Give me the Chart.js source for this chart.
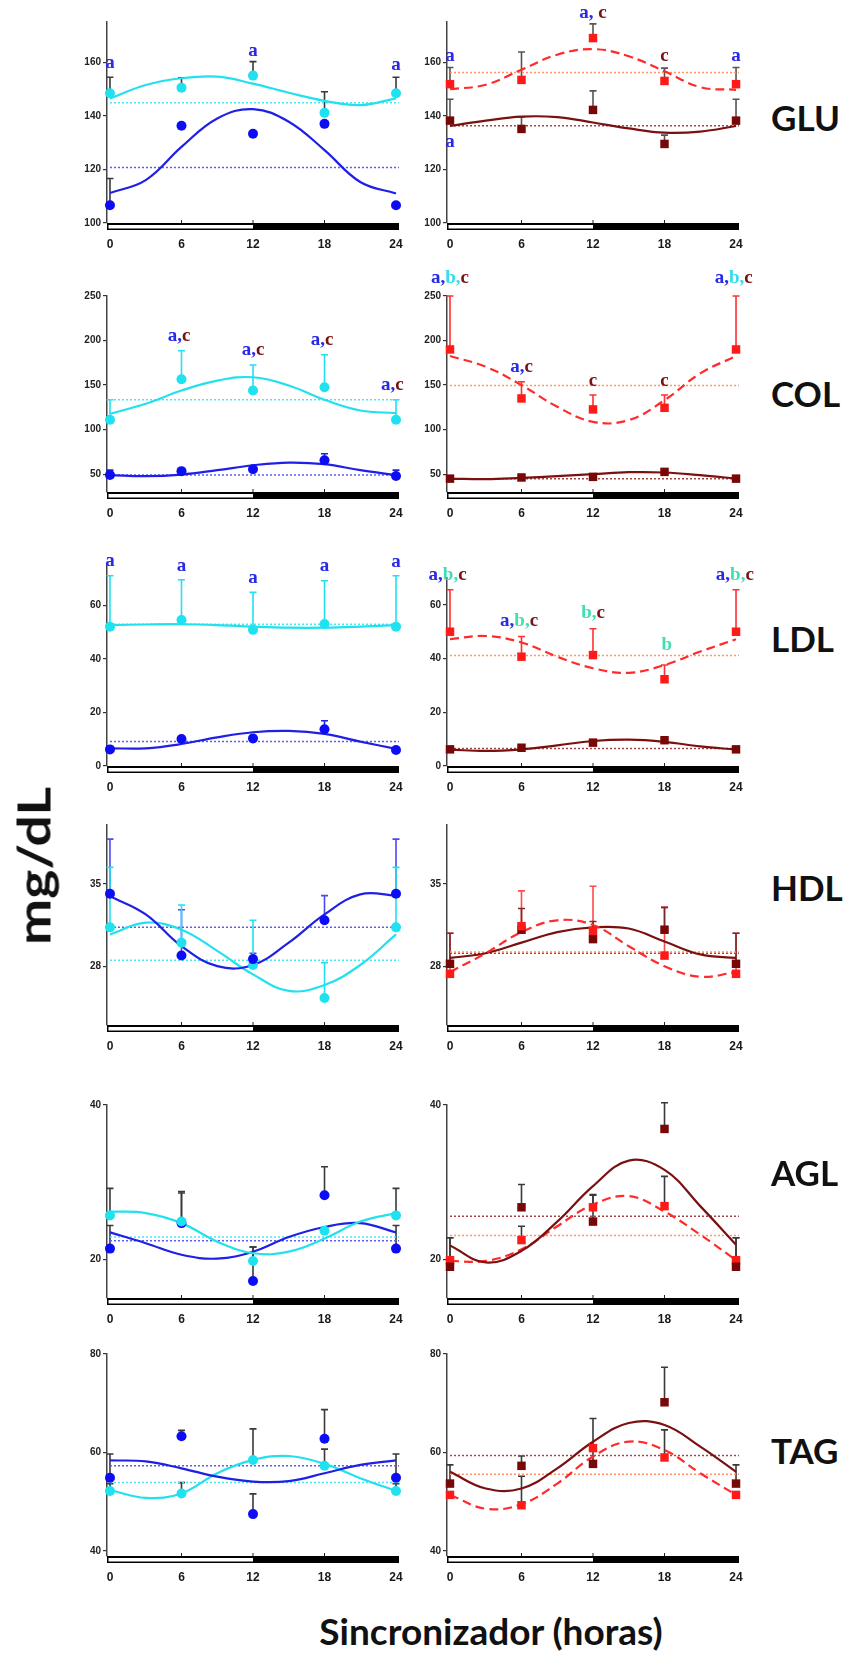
<!DOCTYPE html>
<html>
<head>
<meta charset="utf-8">
<script src="https://cdn.jsdelivr.net/npm/chart.js@4.4.1/dist/chart.umd.min.js"></script>
<style>
  body { margin: 0; background: #fff; }
  #page { position: relative; width: 849px; height: 1667px; overflow: hidden; }
  #page canvas { position: absolute; }
  .rowname { position: absolute; left: 771px; font: bold 35px Lato, "Liberation Sans", sans-serif; color: #111; transform: translateY(-50%); }
  #ylabel { position: absolute; left: 33px; top: 866px; font: bold 46px Lato, "Liberation Sans", sans-serif; color: #111; transform: translate(-50%, -50%) rotate(-90deg) scaleX(1.2); white-space: nowrap; }
  #xlabel { position: absolute; left: 491px; top: 1630px; font: bold 37px Lato, "Liberation Sans", sans-serif; color: #111; transform: translate(-50%, -50%); white-space: nowrap; }
</style>
</head>
<body>
<div id="page"></div>
<script>
// sampling hours
const hours = [0, 6, 12, 18, 24];
const fitHours = [0, 3, 6, 9, 12, 15, 18, 21, 24];
const xTicks = [0, 6, 12, 18, 24];
const mesorSpan = [0, 24.25];
const lightEnd = 12;   // light phase 0-12, dark 12-24
const rowNames = ['GLU', 'COL', 'LDL', 'HDL', 'AGL', 'TAG'];

// ---- GLU ----
const gluRange = [100, 175], gluTicks = [100, 120, 140, 160];
const gluLeftCyanMean = [148.4, 150.5, 155, 141.1, 148.4];
const gluLeftCyanErr = [6, 3.7, 5.2, 7.9, 6];
const gluLeftCyanFit = [146.5, 151.5, 154, 154.6, 152, 148.6, 145.6, 144, 146.5];
const gluLeftCyanMesor = 144.9;
const gluLeftBlueMean = [106.6, 136.3, 133.3, 137, 106.6];
const gluLeftBlueErr = [10, 0, 0, 0, 0];
const gluLeftBlueFit = [111.2, 116, 128.4, 139, 142.5, 137.8, 127.2, 115.3, 111];
const gluLeftBlueMesor = 120.7;
const gluLeftLetters = [[0, 159.6, 'a'], [12, 164.3, 'a'], [24, 159, 'a']];
const gluRightRedMean = [151.8, 153.4, 169, 153, 151.8];
const gluRightRedErr = [6.2, 10.4, 5.3, 4.8, 6.2];
const gluRightRedFit = [149.9, 151.6, 157.2, 162.8, 164.9, 162.2, 156.6, 150.7, 149.7];
const gluRightRedMesor = 156.2;
const gluRightDarkMean = [138.2, 135.1, 142.2, 129.5, 138.2];
const gluRightDarkErr = [8, 4.5, 7.1, 3.3, 8];
const gluRightDarkFit = [136.2, 138.2, 139.7, 139.5, 137.5, 135.3, 133.7, 134.1, 136.2];
const gluRightDarkMesor = 136.3;
const gluRightLetters = [[0, 162.4, 'a'], [0, 130.3, 'a'], [12, 178.4, 'a, c'], [18, 162.4, 'c'], [24, 162.4, 'a']];

// ---- COL ----
const colRange = [30, 250], colTicks = [50, 100, 150, 200, 250];
const colLeftCyanMean = [111, 156.6, 143.9, 147.6, 111];
const colLeftCyanErr = [22.5, 32, 28.7, 36.5, 22.5];
const colLeftCyanFit = [117.8, 129, 143.9, 155, 158.8, 149.5, 133.5, 121.5, 118.6];
const colLeftCyanMesor = 133.5;
const colLeftBlueMean = [49, 53.4, 55.6, 65.6, 48];
const colLeftBlueErr = [5.5, 2.6, 0, 7.4, 6.5];
const colLeftBlueFit = [49, 47.8, 49.6, 54.5, 60, 63, 61.2, 54.5, 49];
const colLeftBlueMesor = 49;
const colLeftLetters = [[5.8, 205.4, 'a,c'], [12, 189.3, 'a,c'], [17.8, 200.5, 'a,c'], [23.7, 149.5, 'a,c']];
const colRightRedMean = [190, 135, 122.7, 124.5, 190];
const colRightRedErr = [60, 18.7, 16.1, 14.3, 60];
const colRightRedFit = [182.6, 170.6, 150, 125.7, 108.8, 110.7, 133.1, 163.1, 182.6];
const colRightRedMesor = 149.6;
const colRightDarkMean = [45, 46.3, 47, 52.6, 45];
const colRightDarkErr = [0, 0, 0, 0, 0];
const colRightDarkFit = [45.1, 44.4, 45.9, 47.8, 50, 52.2, 51.9, 48.9, 45.1];
const colRightDarkMesor = 45;
const colRightLetters = [[0, 269.9, 'a,b,c'], [6, 170.6, 'a,c'], [12, 154.9, 'c'], [18, 154.9, 'c'], [23.8, 269.9, 'a,b,c']];

// ---- LDL ----
const ldlLeftRange = [0, 75], ldlRightRange = [0, 70], ldlTicks = [0, 20, 40, 60];
const ldlLeftCyanMean = [52, 54.5, 50.8, 53, 52];
const ldlLeftCyanErr = [19, 15, 14, 16.1, 19];
const ldlLeftCyanFit = [52.6, 52.8, 52.9, 52.6, 52.0, 51.6, 51.6, 52.0, 52.6];
const ldlLeftCyanMesor = 52.9;
const ldlLeftBlueMean = [6.2, 10.1, 10.3, 13.7, 6];
const ldlLeftBlueErr = [0, 0, 0, 3.2, 0];
const ldlLeftBlueFit = [6.6, 6.6, 8.2, 10.7, 12.6, 13.1, 12, 9.1, 6.4];
const ldlLeftBlueMesor = 9.1;
const ldlLeftLetters = [[0, 76.3, 'a'], [6, 74.5, 'a'], [12, 70.1, 'a'], [18, 74.5, 'a'], [24, 76, 'a']];
const ldlRightRedMean = [50, 40.7, 41.3, 32.3, 50];
const ldlRightRedErr = [15.6, 7.5, 9.8, 5.3, 15.6];
const ldlRightRedFit = [47.2, 48.4, 46, 40.7, 36.4, 34.7, 37.6, 42.6, 47.2];
const ldlRightRedMesor = 41.1;
const ldlRightDarkMean = [6.2, 6.8, 8.7, 9.6, 6.2];
const ldlRightDarkErr = [0, 0, 0, 0, 0];
const ldlRightDarkFit = [6.1, 5.6, 6.2, 7.7, 9.3, 9.8, 9, 7.3, 6.1];
const ldlRightDarkMesor = 6.5;
const ldlRightLetters = [[-0.2, 71.2, 'a,b,c'], [5.8, 53.8, 'a,b,c'], [12, 56.9, 'b,c'], [18.2, 45.1, 'b'], [23.9, 71.2, 'a,b,c']];

// ---- HDL ----
const hdlRange = [23, 40], hdlTicks = [28, 35];
const hdlLeftBlueMean = [34.15, 28.9, 28.6, 31.9, 34.15];
const hdlLeftBlueErr = [4.65, 3.9, 0.5, 2.1, 4.65];
const hdlLeftBlueFit = [33.95, 32.4, 29.7, 28, 28.1, 30, 32.4, 34.1, 34.0];
const hdlLeftBlueMesor = 31.3;
const hdlLeftCyanMean = [31.3, 30, 28.1, 25.3, 31.3];
const hdlLeftCyanErr = [5.1, 3.2, 3.8, 3.0, 5.1];
const hdlLeftCyanFit = [30.7, 31.7, 31.1, 29.3, 27.3, 25.9, 26.4, 28.1, 30.7];
const hdlLeftCyanMesor = 28.5;
const hdlRightRedMean = [27.35, 31.4, 31, 28.9, 27.35];
const hdlRightRedErr = [3.45, 3, 3.8, 4.1, 3.45];
const hdlRightRedFit = [27.5, 29.1, 30.9, 31.9, 31.5, 29.7, 28, 27.1, 27.5];
const hdlRightRedMesor = 29.2;
const hdlRightDarkMean = [28.2, 31.1, 30.3, 31.1, 28.2];
const hdlRightDarkErr = [2.6, 1.8, 1.5, 1.9, 2.6];
const hdlRightDarkFit = [28.7, 29.1, 30, 30.9, 31.3, 31.2, 30.1, 29, 28.7];
const hdlRightDarkMesor = 29.1;

// ---- AGL ----
const aglRange = [15, 40], aglTicks = [20, 40];
const aglLeftCyanMean = [25.7, 24.9, 19.8, 23.7, 25.7];
const aglLeftCyanErr = [3.5, 3.9, 1.8, 0, 3.5];
const aglLeftCyanFit = [26.2, 26, 24.7, 22.3, 20.8, 21, 22.7, 24.9, 26];
const aglLeftCyanMesor = 22.9;
const aglLeftBlueMean = [21.4, 24.7, 17.2, 28.3, 21.4];
const aglLeftBlueErr = [3, 3.9, 4.4, 3.7, 3];
const aglLeftBlueFit = [23.5, 22.1, 20.6, 20.1, 21, 22.9, 24.2, 24.7, 23.5];
const aglLeftBlueMesor = 22.4;
const aglRightDarkMean = [19.05, 26.75, 24.9, 36.9, 19.05];
const aglRightDarkErr = [3.75, 2.95, 3.5, 3.4, 3.75];
const aglRightDarkFit = [21.8, 19.6, 21.1, 24.9, 29.5, 32.8, 31.6, 26.9, 21.9];
const aglRightDarkMesor = 25.6;
const aglRightRedMean = [19.9, 22.5, 26.75, 26.9, 19.9];
const aglRightRedErr = [2.9, 1.8, 1.55, 3.85, 2.9];
const aglRightRedFit = [19.8, 19.8, 21.3, 24.3, 27.1, 28.2, 26.2, 23.2, 19.9];
const aglRightRedMesor = 23.1;

// ---- TAG ----
const tagRange = [39, 80], tagTicks = [40, 60, 80];
const tagLeftBlueMean = [54.9, 63.3, 47.5, 62.8, 54.9];
const tagLeftBlueErr = [4.8, 1.2, 4.1, 5.9, 4.8];
const tagLeftBlueFit = [58.4, 58.2, 56.8, 55.1, 54.1, 54.2, 55.8, 57.5, 58.4];
const tagLeftBlueMesor = 57.3;
const tagLeftCyanMean = [52.2, 51.7, 58.5, 57.3, 52.2];
const tagLeftCyanErr = [1.5, 2.2, 6.3, 3.4, 1.5];
const tagLeftCyanFit = [52.4, 50.8, 51.7, 55.8, 58.5, 59.3, 57.7, 54.8, 52.2];
const tagLeftCyanMesor = 53.9;
const tagRightDarkMean = [53.7, 57.3, 57.7, 70.2, 53.7];
const tagRightDarkErr = [3.8, 2, 9.2, 7.1, 3.8];
const tagRightDarkFit = [56.1, 52.7, 52.7, 56.8, 62.2, 66, 65.6, 61.2, 56.1];
const tagRightDarkMesor = 59.4;
const tagRightRedMean = [51.4, 49.3, 60.9, 59, 51.4];
const tagRightRedErr = [0, 5.9, 0, 5.6, 0];
const tagRightRedFit = [51.4, 48.6, 49.5, 53.7, 59.2, 62.2, 60.5, 55.8, 51.4];
const tagRightRedMesor = 55.6;

// styles
const styles = {
  blue:    { color: '#0d0df5', line: '#1f1fe6', mesor: '#5c5cf4', shape: 'circle', radius: 5, dash: [] },
  cyan:    { color: '#1ee2ef', line: '#22e0ee', mesor: '#48e6f0', shape: 'circle', radius: 5, dash: [] },
  red:     { color: '#ff1a1a', line: '#ff2a2a', mesor: '#ff9466', shape: 'rect', radius: 6, dash: [9, 5] },
  darkred: { color: '#780808', line: '#7a1010', mesor: '#a04444', shape: 'rect', radius: 6, dash: [] },
};
const LETTER_A = '#2a2ae4', LETTER_C = '#7a1212';
const B_CYAN = '#34dcec', B_TEAL = '#3ee0b2';
const GREY = '#3a3a3a';

const PAD_L = 50, PAD_T = 50, PAD_R = 32, PAD_B = 36;
const COLS = [[107, 399], [447, 739]];

function S(name, mean, err, fit, mesor, errColor) {
  return { name, mean, err, fit, mesor, errColor };
}

const panels = [
  { col: 0, top: 22, bottom: 223, range: gluRange, ticks: gluTicks, letters: gluLeftLetters, series: [
    S('cyan', gluLeftCyanMean, gluLeftCyanErr, gluLeftCyanFit, gluLeftCyanMesor, GREY),
    S('blue', gluLeftBlueMean, gluLeftBlueErr, gluLeftBlueFit, gluLeftBlueMesor, GREY)] },
  { col: 1, top: 22, bottom: 223, range: gluRange, ticks: gluTicks, letters: gluRightLetters, series: [
    S('red', gluRightRedMean, gluRightRedErr, gluRightRedFit, gluRightRedMesor, '#555'),
    S('darkred', gluRightDarkMean, gluRightDarkErr, gluRightDarkFit, gluRightDarkMesor, '#555')] },
  { col: 0, top: 296, bottom: 492, range: colRange, ticks: colTicks, letters: colLeftLetters, series: [
    S('cyan', colLeftCyanMean, colLeftCyanErr, colLeftCyanFit, colLeftCyanMesor, '#22e0ee'),
    S('blue', colLeftBlueMean, colLeftBlueErr, colLeftBlueFit, colLeftBlueMesor, '#2222e0')] },
  { col: 1, top: 296, bottom: 492, range: colRange, ticks: colTicks, letters: colRightLetters, bColor: B_CYAN, series: [
    S('red', colRightRedMean, colRightRedErr, colRightRedFit, colRightRedMesor, '#ff3030'),
    S('darkred', colRightDarkMean, colRightDarkErr, colRightDarkFit, colRightDarkMesor, '#7a1010')] },
  { col: 0, top: 565, bottom: 766, range: ldlLeftRange, ticks: ldlTicks, letters: ldlLeftLetters, series: [
    S('cyan', ldlLeftCyanMean, ldlLeftCyanErr, ldlLeftCyanFit, ldlLeftCyanMesor, '#22e0ee'),
    S('blue', ldlLeftBlueMean, ldlLeftBlueErr, ldlLeftBlueFit, ldlLeftBlueMesor, '#2222e0')] },
  { col: 1, top: 578, bottom: 766, range: ldlRightRange, ticks: ldlTicks, letters: ldlRightLetters, bColor: B_TEAL, series: [
    S('red', ldlRightRedMean, ldlRightRedErr, ldlRightRedFit, ldlRightRedMesor, '#ff3030'),
    S('darkred', ldlRightDarkMean, ldlRightDarkErr, ldlRightDarkFit, ldlRightDarkMesor, '#7a1010')] },
  { col: 0, top: 825, bottom: 1025, range: hdlRange, ticks: hdlTicks, letters: [], series: [
    S('blue', hdlLeftBlueMean, hdlLeftBlueErr, hdlLeftBlueFit, hdlLeftBlueMesor, '#4a4aee'),
    S('cyan', hdlLeftCyanMean, hdlLeftCyanErr, hdlLeftCyanFit, hdlLeftCyanMesor, '#22e0ee')] },
  { col: 1, top: 825, bottom: 1025, range: hdlRange, ticks: hdlTicks, letters: [], series: [
    S('red', hdlRightRedMean, hdlRightRedErr, hdlRightRedFit, hdlRightRedMesor, '#ff4a4a'),
    S('darkred', hdlRightDarkMean, hdlRightDarkErr, hdlRightDarkFit, hdlRightDarkMesor, '#7a2a2a')] },
  { col: 0, top: 1105, bottom: 1298, range: aglRange, ticks: aglTicks, letters: [], series: [
    S('cyan', aglLeftCyanMean, aglLeftCyanErr, aglLeftCyanFit, aglLeftCyanMesor, GREY),
    S('blue', aglLeftBlueMean, aglLeftBlueErr, aglLeftBlueFit, aglLeftBlueMesor, GREY)] },
  { col: 1, top: 1105, bottom: 1298, range: aglRange, ticks: aglTicks, letters: [], series: [
    S('darkred', aglRightDarkMean, aglRightDarkErr, aglRightDarkFit, aglRightDarkMesor, GREY),
    S('red', aglRightRedMean, aglRightRedErr, aglRightRedFit, aglRightRedMesor, GREY)] },
  { col: 0, top: 1354, bottom: 1556, range: tagRange, ticks: tagTicks, letters: [], series: [
    S('blue', tagLeftBlueMean, tagLeftBlueErr, tagLeftBlueFit, tagLeftBlueMesor, GREY),
    S('cyan', tagLeftCyanMean, tagLeftCyanErr, tagLeftCyanFit, tagLeftCyanMesor, GREY)] },
  { col: 1, top: 1354, bottom: 1556, range: tagRange, ticks: tagTicks, letters: [], series: [
    S('darkred', tagRightDarkMean, tagRightDarkErr, tagRightDarkFit, tagRightDarkMesor, GREY),
    S('red', tagRightRedMean, tagRightRedErr, tagRightRedFit, tagRightRedMesor, GREY)] },
];

const page = document.getElementById('page');

// error bars, light/dark bar and significance letters
function makeDecor(letters, bColor) {
  return {
    id: 'decor',
    beforeDatasetsDraw(chart) {
      const { ctx, scales: { x, y } } = chart;
      ctx.save();
      chart.data.datasets.forEach(ds => {
        if (!ds.errs) return;
        ctx.strokeStyle = ds.errColor;
        ctx.lineWidth = 1.6;
        ds.data.forEach((p, i) => {
          const e = ds.errs[i];
          if (!e) return;
          const px = x.getPixelForValue(p.x);
          const py = y.getPixelForValue(p.y);
          const pt = y.getPixelForValue(p.y + e);
          ctx.beginPath();
          ctx.moveTo(px, py); ctx.lineTo(px, pt);
          ctx.moveTo(px - 3.5, pt); ctx.lineTo(px + 3.5, pt);
          ctx.stroke();
        });
      });
      ctx.restore();
    },
    afterDraw(chart) {
      const { ctx, chartArea: a, scales: { x, y } } = chart;
      ctx.save();
      // light / dark bar
      const x12 = x.getPixelForValue(lightEnd);
      ctx.fillStyle = '#000';
      ctx.fillRect(a.left, a.bottom, a.right - a.left, 7);
      ctx.fillStyle = '#fff';
      ctx.fillRect(a.left + 1.5, a.bottom + 2, x12 - a.left - 1.5, 3.5);
      ctx.strokeStyle = '#222';
      ctx.lineWidth = 1;
      xTicks.slice(1, -1).forEach(v => {
        const px = x.getPixelForValue(v);
        ctx.beginPath(); ctx.moveTo(px, a.bottom); ctx.lineTo(px, a.bottom - 3); ctx.stroke();
      });
      // letters
      ctx.font = 'bold 19px "Liberation Serif", serif';
      ctx.textBaseline = 'middle';
      ctx.textAlign = 'left';
      letters.forEach(([hx, v, text]) => {
        let px = x.getPixelForValue(hx) - ctx.measureText(text).width / 2;
        const py = y.getPixelForValue(v);
        let last = 'a';
        for (const ch of text) {
          if (ch === 'a' || ch === 'b' || ch === 'c') last = ch;
          ctx.fillStyle = last === 'a' ? LETTER_A : last === 'b' ? bColor : LETTER_C;
          ctx.fillText(ch, px, py);
          px += ctx.measureText(ch).width;
        }
      });
      ctx.restore();
    }
  };
}

panels.forEach(p => {
  const [left, right] = COLS[p.col];
  const w = right - left + PAD_L + PAD_R;
  const h = p.bottom - p.top + PAD_T + PAD_B;
  const canvas = document.createElement('canvas');
  canvas.width = w; canvas.height = h;
  canvas.style.left = (left - PAD_L) + 'px';
  canvas.style.top = (p.top - PAD_T) + 'px';
  canvas.style.width = w + 'px';
  canvas.style.height = h + 'px';
  page.appendChild(canvas);

  const datasets = [];
  p.series.forEach(s => {
    const st = styles[s.name];
    datasets.push({
      data: hours.map((hx, i) => ({ x: hx, y: s.mean[i] })),
      showLine: false, clip: false,
      pointStyle: st.shape, pointRadius: st.radius, pointBorderWidth: 0,
      pointBackgroundColor: st.color, pointBorderColor: st.color,
      errs: s.err, errColor: s.errColor
    });
  });
  p.series.forEach(s => {
    const st = styles[s.name];
    datasets.push({
      data: fitHours.map((hx, i) => ({ x: hx, y: s.fit[i] })),
      showLine: true, clip: false, tension: 0.4, pointRadius: 0,
      borderColor: st.line, borderWidth: 2.2, borderDash: st.dash
    });
  });
  p.series.forEach(s => {
    const st = styles[s.name];
    datasets.push({
      data: mesorSpan.map(hx => ({ x: hx, y: s.mesor })),
      showLine: true, clip: false, pointRadius: 0,
      borderColor: st.mesor, borderWidth: 1.5, borderDash: [2, 2]
    });
  });

  new Chart(canvas, {
    type: 'line',
    data: { datasets },
    options: {
      responsive: false,
      animation: false,
      events: [],
      layout: { padding: { left: 0, top: PAD_T, right: PAD_R, bottom: 0 } },
      plugins: { legend: { display: false }, tooltip: { enabled: false } },
      scales: {
        x: {
          type: 'linear', min: -0.25, max: 24.25,
          afterBuildTicks: sc => { sc.ticks = xTicks.map(v => ({ value: v })); },
          afterFit: sc => { sc.height = PAD_B; },
          grid: { display: false }, border: { display: false },
          ticks: { font: { family: '"Liberation Sans", Arial', size: 12, weight: 'bold' }, color: '#1a1a1a', padding: 6, maxRotation: 0, autoSkip: false }
        },
        y: {
          type: 'linear', min: p.range[0], max: p.range[1],
          afterBuildTicks: sc => { sc.ticks = p.ticks.map(v => ({ value: v })); },
          afterFit: sc => { sc.width = PAD_L; },
          grid: { drawOnChartArea: false, tickLength: 4, color: '#333', lineWidth: 1.2 },
          border: { color: '#444', width: 1.5 },
          ticks: { font: { family: '"Liberation Sans", Arial', size: 10, weight: 'bold' }, color: '#222', padding: 2 }
        }
      }
    },
    plugins: [makeDecor(p.letters, p.bColor)]
  });
});

// row names and axis titles
const rowCenters = [117, 393, 638, 887, 1172, 1450];
rowNames.forEach((name, i) => {
  const d = document.createElement('div');
  d.className = 'rowname';
  d.style.top = rowCenters[i] + 'px';
  d.textContent = name;
  page.appendChild(d);
});
const yl = document.createElement('div');
yl.id = 'ylabel'; yl.textContent = 'mg/dL';
page.appendChild(yl);
const xl = document.createElement('div');
xl.id = 'xlabel'; xl.textContent = 'Sincronizador (horas)';
page.appendChild(xl);
</script>
</body>
</html>
